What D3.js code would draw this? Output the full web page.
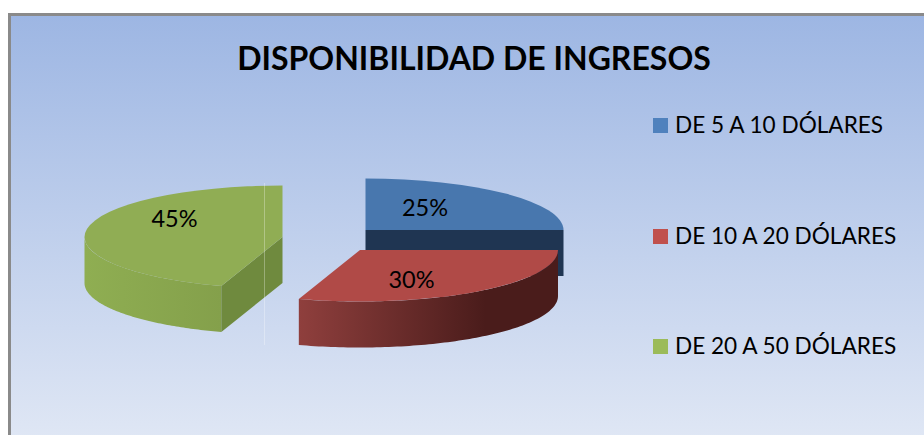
<!DOCTYPE html>
<html><head><meta charset="utf-8">
<script src="https://cdn.jsdelivr.net/npm/d3@7/dist/d3.min.js"></script>
<style>html,body{margin:0;padding:0;background:#fff}svg{display:block}text{font-family:Lato,"Open Sans",sans-serif;fill:#000}</style>
</head><body><div id="c"></div>
<script>
const categories = ["DE 5 A 10 DÓLARES", "DE 10 A 20 DÓLARES", "DE 20 A 50 DÓLARES"];
const values = [25, 30, 45];
const colorsTop = ["#4877ae", "#b04a47", "#90ad54"];
const legendColors = ["#4f81bd", "#c0504d", "#9bbb59"];
const wallFrom = ["#1f3552", "#8f3f3d", "#8fae52"];
const wallTo = ["#1f3552", "#4a1c1b", "#84a04b"];
const faceColors = ["#1f3552", "#4a1c1b", "#6f8a3e"];
const title = "DISPONIBILIDAD DE INGRESOS";

// layout
const W = 924, H = 435, RX = 198, RY = 51.5, DEPTH = 46;
const centers = [[365.5, 230], [360, 250], [282.5, 237]];
const labelPos = [[425, 215.5], [411.5, 287.5], [174.5, 227]];
const legendY = [133, 244, 354];

const svg = d3.select("#c").append("svg").attr("width", W).attr("height", H);
const defs = svg.append("defs");
const bg = defs.append("linearGradient").attr("id", "bg").attr("x1", 0).attr("y1", 0).attr("x2", 0).attr("y2", 1);
bg.append("stop").attr("offset", 0).attr("stop-color", "#9db6e3");
bg.append("stop").attr("offset", 1).attr("stop-color", "#e1e8f5");
svg.append("rect").attr("x", 9.5).attr("y", 14.5).attr("width", W).attr("height", H)
  .attr("fill", "url(#bg)").attr("stroke", "#8a8a8a").attr("stroke-width", 3);

const slices = d3.pie().sort(null)(values);
const angleSteps = 90;
const line = d3.line();
const pt = (c, a, dy = 0) => [c[0] + RX * Math.sin(a), c[1] - RY * Math.cos(a) + dy];

// Draw order: back to front so nearer slices overlap farther ones
const order = [0, 2, 1];
order.forEach(i => {
  const s = slices[i], c = centers[i], g = svg.append("g");
  // curved front wall
  const a0 = Math.max(s.startAngle, Math.PI / 2), a1 = Math.min(s.endAngle, 3 * Math.PI / 2);
  if (a1 > a0 + 1e-6) {
    const as = d3.range(angleSteps + 1).map(k => a0 + (a1 - a0) * k / angleSteps);
    const pts = as.map(a => pt(c, a)).concat(as.slice().reverse().map(a => pt(c, a, DEPTH)));
    const xs = d3.extent(pts, p => p[0]);
    const gr = defs.append("linearGradient").attr("id", "wall" + i).attr("gradientUnits", "userSpaceOnUse")
      .attr("x1", xs[0]).attr("x2", xs[1]).attr("y1", 0).attr("y2", 0);
    gr.append("stop").attr("offset", 0).attr("stop-color", wallFrom[i]);
    gr.append("stop").attr("offset", i === 1 ? 0.72 : 1).attr("stop-color", wallTo[i]);
    gr.append("stop").attr("offset", 1).attr("stop-color", wallTo[i]);
    g.append("path").attr("d", line(pts) + "Z").attr("fill", `url(#wall${i})`);
  }
  // flat cut faces that look toward the viewer
  [[s.startAngle, Math.sin(s.startAngle) < -1e-6], [s.endAngle, Math.sin(s.endAngle) > 1e-6]].forEach(([a, vis]) => {
    if (!vis) return;
    const p = pt(c, a);
    g.append("path").attr("fill", faceColors[i])
      .attr("d", line([c, p, [p[0], p[1] + DEPTH], [c[0], c[1] + DEPTH]]) + "Z");
  });
  // top surface
  g.append("path")
    .attr("transform", `translate(${c[0]},${c[1]}) scale(1,${RY / RX})`)
    .attr("d", d3.arc().innerRadius(0).outerRadius(RX)(s))
    .attr("fill", colorsTop[i]);
});

// faint vertical hairline seen in the source picture
svg.append("line").attr("x1", 264.5).attr("x2", 264.5).attr("y1", 183).attr("y2", 345)
  .attr("stroke", "#fff").attr("stroke-opacity", 0.3);

slices.forEach((s, i) => {
  svg.append("text").attr("x", labelPos[i][0]).attr("y", labelPos[i][1])
    .attr("text-anchor", "middle").attr("font-size", 23.5)
    .text(d3.format(".0f")(s.value) + "%");
});

svg.append("text").attr("x", 474).attr("y", 70).attr("text-anchor", "middle")
  .attr("font-size", 32).attr("font-weight", 700).text(title);

categories.forEach((t, i) => {
  svg.append("rect").attr("x", 653).attr("y", legendY[i] - 15).attr("width", 15).attr("height", 15).attr("fill", legendColors[i]);
  svg.append("text").attr("x", 675).attr("y", legendY[i]).attr("font-size", 22.6).text(t);
});
</script></body></html>
